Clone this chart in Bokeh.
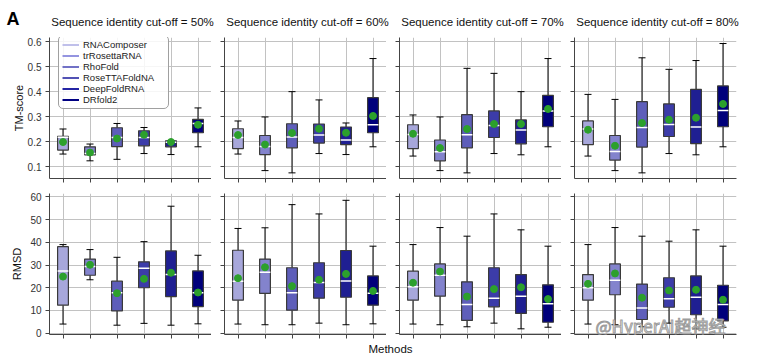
from bokeh.plotting import figure
from bokeh.layouts import row, column
from bokeh.models import Range1d, FixedTicker, ColumnDataSource, Legend, LegendItem, Label
from bokeh.embed import file_html
from bokeh.resources import INLINE

# ---------------- data ----------------
methods = ["RNAComposer", "trRosettaRNA", "RhoFold", "RoseTTAFoldNA", "DeepFoldRNA", "DRfold2"]
cutoffs = ["50%", "60%", "70%", "80%"]
positions = [0, 1, 2, 3, 4, 5]

# TM-score statistics, one row per cut-off, one value per method
tm_lo = [[0.151, 0.124, 0.130, 0.153, 0.149, 0.180],
         [0.151, 0.085, 0.076, 0.153, 0.149, 0.180],
         [0.143, 0.085, 0.076, 0.153, 0.148, 0.180],
         [0.143, 0.085, 0.076, 0.153, 0.148, 0.180]]
tm_q1 = [[0.167, 0.148, 0.181, 0.184, 0.180, 0.236],
         [0.173, 0.149, 0.176, 0.195, 0.189, 0.236],
         [0.173, 0.124, 0.176, 0.217, 0.192, 0.260],
         [0.189, 0.127, 0.179, 0.221, 0.193, 0.260]]
tm_med = [[0.218, 0.153, 0.217, 0.217, 0.198, 0.273],
          [0.217, 0.181, 0.219, 0.227, 0.207, 0.268],
          [0.229, 0.160, 0.228, 0.265, 0.247, 0.323],
          [0.251, 0.161, 0.257, 0.269, 0.259, 0.325]]
tm_q3 = [[0.222, 0.180, 0.256, 0.244, 0.204, 0.289],
         [0.252, 0.225, 0.272, 0.271, 0.259, 0.376],
         [0.268, 0.207, 0.308, 0.323, 0.287, 0.385],
         [0.283, 0.225, 0.360, 0.351, 0.409, 0.423]]
tm_hi = [[0.251, 0.191, 0.273, 0.257, 0.205, 0.335],
         [0.283, 0.299, 0.400, 0.367, 0.275, 0.532],
         [0.307, 0.299, 0.493, 0.473, 0.400, 0.532],
         [0.389, 0.369, 0.535, 0.489, 0.524, 0.592]]
tm_mean = [[0.199, 0.157, 0.213, 0.228, 0.199, 0.268],
           [0.227, 0.189, 0.235, 0.252, 0.236, 0.303],
           [0.232, 0.175, 0.251, 0.271, 0.271, 0.331],
           [0.248, 0.184, 0.275, 0.288, 0.296, 0.351]]

# RMSD statistics
rmsd_lo = [[4.0, 23.5, 3.5, 4.3, 3.5, 4.1],
           [4.0, 3.7, 3.7, 4.4, 3.7, 4.1],
           [4.0, 3.7, 2.8, 4.4, 1.9, 2.6],
           [4.0, 3.7, 2.8, 4.4, 1.9, 2.6]]
rmsd_q1 = [[12.3, 25.5, 9.8, 20.0, 16.1, 11.7],
           [14.5, 17.5, 10.1, 15.4, 15.8, 12.3],
           [14.5, 16.3, 5.6, 11.6, 8.7, 4.8],
           [14.5, 16.9, 6.0, 11.4, 8.1, 5.4]]
rmsd_med = [[27.4, 29.3, 17.8, 28.6, 25.8, 17.8],
            [22.9, 26.8, 17.8, 22.3, 23.0, 17.6],
            [20.4, 25.5, 12.6, 15.4, 16.3, 12.9],
            [20.0, 23.3, 11.1, 15.1, 15.8, 12.6]]
rmsd_q3 = [[38.1, 32.6, 22.9, 31.4, 36.2, 27.4],
           [36.5, 32.6, 28.8, 31.0, 36.4, 25.2],
           [27.3, 30.5, 22.6, 28.8, 25.8, 21.3],
           [25.8, 30.5, 21.6, 24.4, 25.2, 21.1]]
rmsd_hi = [[39.0, 36.8, 33.4, 40.3, 55.9, 34.3],
           [46.1, 46.4, 56.6, 52.5, 58.5, 38.3],
           [39.0, 46.5, 42.7, 52.5, 45.5, 38.3],
           [39.0, 46.5, 42.7, 40.5, 45.5, 38.3]]
rmsd_mean = [[24.9, 30.1, 17.6, 23.9, 26.6, 17.9],
             [24.2, 29.0, 20.7, 23.5, 26.1, 18.6],
             [22.2, 27.1, 16.1, 19.4, 20.2, 15.0],
             [21.7, 26.3, 15.6, 18.8, 19.1, 14.7]]

tm_ticks = [0.1, 0.2, 0.3, 0.4, 0.5, 0.6]
tm_tick_labels = ["0.1", "0.2", "0.3", "0.4", "0.5", "0.6"]
rmsd_ticks = [0, 10, 20, 30, 40, 50, 60]
rmsd_tick_labels = ["0", "10", "20", "30", "40", "50", "60"]

box_colors = ["#a7a7db", "#8383cd", "#5e5eba", "#3c3ca9", "#1f1f92", "#00007b"]
legend_colors = ["#c0c0ea", "#9494e0", "#7171c6", "#5252b4", "#2424a4", "#000082"]

FONT = "Liberation Sans"

# ---------------- layout constants ----------------
FRAME_W = 162
LEFT = [49, 13, 13, 13]
RIGHT = [0, 0, 0, 47]
TOP_STRIP = 30


def hide_labels(ax):
    ax.major_label_text_font_size = "1px"
    ax.major_label_text_color = None
    ax.major_label_standoff = 0


def make_panel(ci, metric):
    top_row = metric == "tm"
    if top_row:
        lo, q1, med, q3, hi, mean = tm_lo[ci], tm_q1[ci], tm_med[ci], tm_q3[ci], tm_hi[ci], tm_mean[ci]
        yr = Range1d(0.0535, 0.616)
        ticks, labels = tm_ticks, tm_tick_labels
        h, bt, bb = 185 - TOP_STRIP, 37 - TOP_STRIP, 7
    else:
        lo, q1, med, q3, hi, mean = rmsd_lo[ci], rmsd_q1[ci], rmsd_med[ci], rmsd_q3[ci], rmsd_hi[ci], rmsd_mean[ci]
        yr = Range1d(-0.6, 61.5)
        ticks, labels = rmsd_ticks, rmsd_tick_labels
        h, bt, bb = 155, 8, 6
    w = LEFT[ci] + FRAME_W + RIGHT[ci]
    p = figure(width=w, height=h, x_range=Range1d(-0.5, 5.5), y_range=yr,
               output_backend="svg", toolbar_location=None,
               min_border_left=LEFT[ci], min_border_right=RIGHT[ci],
               min_border_top=bt, min_border_bottom=bb)
    p.outline_line_color = None
    p.background_fill_color = "white"
    p.border_fill_color = "white"

    # x axis: ticks only
    p.xaxis.ticker = FixedTicker(ticks=positions)
    hide_labels(p.xaxis[0])
    p.xaxis.major_tick_out = 4
    p.xaxis.major_tick_in = 0
    p.xaxis.minor_tick_out = 0
    p.xaxis.minor_tick_in = 0
    p.xaxis.axis_line_color = "#444444"
    p.xaxis.major_tick_line_color = "#444444"

    p.yaxis.ticker = FixedTicker(ticks=ticks)
    p.yaxis.major_label_overrides = {t: l for t, l in zip(ticks, labels)}
    p.yaxis.major_tick_out = 4
    p.yaxis.major_tick_in = 0
    p.yaxis.minor_tick_out = 0
    p.yaxis.minor_tick_in = 0
    p.yaxis.axis_line_color = "#444444"
    p.yaxis.major_tick_line_color = "#444444"
    if ci == 0:
        p.yaxis.major_label_text_font = FONT
        p.yaxis.major_label_text_font_size = "10px"
        p.yaxis.major_label_text_color = "#333333"
        p.yaxis.major_label_standoff = 4
        p.yaxis.axis_label = "TM-score" if top_row else "RMSD"
        p.yaxis.axis_label_text_font = FONT
        p.yaxis.axis_label_text_font_size = "11px"
        p.yaxis.axis_label_text_font_style = "normal"
        p.yaxis.axis_label_text_color = "#111111"
        p.yaxis.axis_label_standoff = 0 if top_row else 4
    else:
        hide_labels(p.yaxis[0])

    p.grid.grid_line_color = "#c2c2c2"
    p.grid.grid_line_width = 1
    p.xgrid.ticker = FixedTicker(ticks=positions)
    p.ygrid.ticker = FixedTicker(ticks=ticks)

    src = ColumnDataSource(dict(
        x=positions, lo=lo, q1=q1, med=med, q3=q3, hi=hi, mean=mean,
        xl=[x - 0.13 for x in positions], xr=[x + 0.13 for x in positions],
        ml=[x - 0.2 for x in positions], mr=[x + 0.2 for x in positions],
        color=box_colors))

    # whiskers and caps
    p.segment(x0="x", y0="q3", x1="x", y1="hi", source=src, line_color="black", line_width=1)
    p.segment(x0="x", y0="q1", x1="x", y1="lo", source=src, line_color="black", line_width=1)
    p.segment(x0="xl", y0="hi", x1="xr", y1="hi", source=src, line_color="black", line_width=1)
    p.segment(x0="xl", y0="lo", x1="xr", y1="lo", source=src, line_color="black", line_width=1)
    # boxes
    p.vbar(x="x", width=0.4, top="q3", bottom="q1", source=src,
           fill_color="color", line_color="#3a3a3a", line_width=1.2)
    # medians
    p.segment(x0="ml", y0="med", x1="mr", y1="med", source=src, line_color="white", line_width=1.5)
    # means
    p.scatter(x="x", y="mean", source=src, size=7, fill_color="#2ca02c", line_color="#2ca02c")

    if ci == 0 and top_row:
        items = []
        for m, c in zip(methods, legend_colors):
            r = p.line(x=[float("nan")], y=[float("nan")], line_color=c, line_width=2)
            items.append(LegendItem(label=m, renderers=[r]))
        leg = Legend(items=items, location=(9, 69), orientation="vertical",
                     label_text_font=FONT, label_text_font_size="9.5px",
                     label_text_color="#222222", glyph_width=17, glyph_height=11,
                     label_height=11, label_standoff=4, label_width=82,
                     spacing=0, padding=3, margin=0,
                     border_line_color="#a0a0a0", border_line_width=1, border_line_alpha=1,
                     background_fill_color="white", background_fill_alpha=0.85)
        try:
            leg.border_radius = 5
        except AttributeError:
            pass
        p.add_layout(leg)
    if ci == 3 and not top_row:
        wm = Label(x=21, y=9, x_units="screen", y_units="screen",
                   text="@HyperAI超神经", text_font="Noto Sans CJK SC",
                   text_font_size="17px", text_baseline="middle", text_align="left",
                   text_color="white", text_alpha=0.85)
        try:
            wm.text_outline_color = "#8a8a8a"
        except AttributeError:
            wm.text_color = "#cccccc"
        p.add_layout(wm)
    return p


# ---------------- title strip ----------------
strip = figure(width=783, height=TOP_STRIP, x_range=Range1d(0, 783), y_range=Range1d(0, TOP_STRIP),
               output_backend="svg", toolbar_location=None, min_border=0,
               x_axis_location=None, y_axis_location=None)
strip.grid.visible = False
strip.outline_line_color = None
strip.add_layout(Label(x=6, y=TOP_STRIP - 18.5, text="A", text_font=FONT, text_font_size="18px",
                       text_font_style="bold", text_baseline="middle", text_align="left",
                       text_color="black"))
x0 = 0
for ci in range(4):
    center = x0 + LEFT[ci] + FRAME_W / 2 + 2
    strip.add_layout(Label(x=center, y=TOP_STRIP - 21, text="Sequence identity cut-off = " + cutoffs[ci],
                           text_font=FONT, text_font_size="11.5px", text_align="center",
                           text_baseline="middle", text_color="#111111"))
    x0 += LEFT[ci] + FRAME_W + RIGHT[ci]

top = [make_panel(i, "tm") for i in range(4)]
bottom = [make_panel(i, "rmsd") for i in range(4)]

pm = figure(width=783, height=17, x_range=Range1d(0, 783), y_range=Range1d(0, 17),
            output_backend="svg", toolbar_location=None, min_border=0,
            x_axis_location=None, y_axis_location=None)
pm.grid.visible = False
pm.outline_line_color = None
pm.add_layout(Label(x=390, y=9, text="Methods", text_font=FONT, text_font_size="11.5px",
                    text_align="center", text_baseline="middle", text_color="#111111"))

layout = column(strip, row(*top), row(*bottom), pm)

open("out.html", "w").write(file_html(layout, INLINE))
